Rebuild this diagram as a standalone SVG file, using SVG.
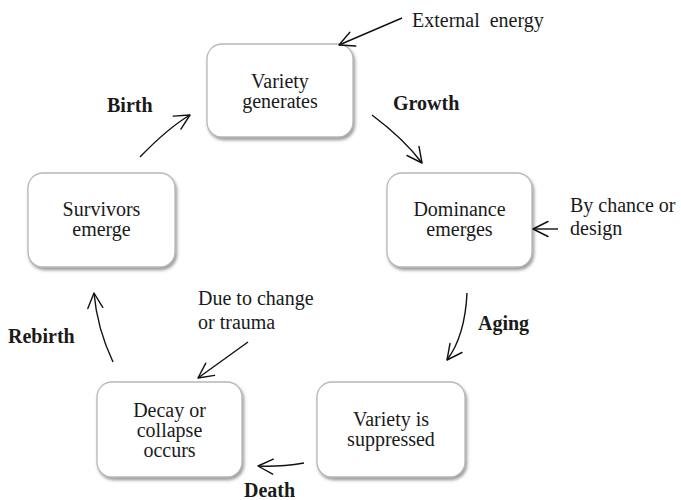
<svg xmlns="http://www.w3.org/2000/svg" width="681" height="500" viewBox="0 0 681 500">
  <defs>
    <filter id="boxShadow" x="-10%" y="-10%" width="125%" height="130%">
      <feDropShadow dx="1.5" dy="2.5" stdDeviation="1.6" flood-color="#7a7a7a" flood-opacity="0.75"/>
    </filter>
    <marker id="chevron" markerUnits="userSpaceOnUse" markerWidth="24" markerHeight="24" viewBox="-20 -12 24 24" refX="0" refY="0" orient="auto">
      <path d="M-15,-7.5 L0,0 L-15,7.5" fill="none" stroke="#111" stroke-width="1.4" stroke-linecap="round" stroke-linejoin="round"/>
    </marker>
    <style>
      .box { fill: #ffffff; stroke: #b8b8b8; stroke-width: 1.3; filter: url(#boxShadow); }
      .node-text { font-family: "Liberation Serif", "Times New Roman", serif; font-size: 20px; fill: #1a1a1a; text-anchor: middle; }
      .note { font-family: "Liberation Serif", "Times New Roman", serif; font-size: 20px; fill: #1a1a1a; white-space: pre; }
      .stage { font-family: "Liberation Serif", "Times New Roman", serif; font-size: 20px; font-weight: bold; fill: #1a1a1a; }
      .arrow { fill: none; stroke: #111; stroke-width: 1.4; marker-end: url(#chevron); }
    </style>
  </defs>

  <rect width="681" height="500" fill="#ffffff"/>

  <!-- cycle nodes -->
  <g id="variety-generates">
    <rect class="box" x="207" y="44" width="146" height="93" rx="15"/>
    <text class="node-text" x="280" y="88">Variety</text>
    <text class="node-text" x="280" y="108">generates</text>
  </g>

  <g id="dominance-emerges">
    <rect class="box" x="387" y="173" width="145" height="94" rx="15"/>
    <text class="node-text" x="459.5" y="216">Dominance</text>
    <text class="node-text" x="459.5" y="236">emerges</text>
  </g>

  <g id="variety-suppressed">
    <rect class="box" x="317" y="382" width="148" height="95" rx="15"/>
    <text class="node-text" x="391" y="426">Variety is</text>
    <text class="node-text" x="391" y="446">suppressed</text>
  </g>

  <g id="decay-collapse">
    <rect class="box" x="97" y="382" width="145" height="95" rx="15"/>
    <text class="node-text" x="169.5" y="417">Decay or</text>
    <text class="node-text" x="169.5" y="437">collapse</text>
    <text class="node-text" x="169.5" y="457">occurs</text>
  </g>

  <g id="survivors-emerge">
    <rect class="box" x="28" y="173" width="147" height="94" rx="15"/>
    <text class="node-text" x="101.5" y="216">Survivors</text>
    <text class="node-text" x="101.5" y="236">emerge</text>
  </g>

  <!-- influences and stage labels -->
  <g id="annotations">
    <text class="note" x="412" y="27">External  energy</text>
    <text class="note" x="570" y="212">By chance or</text>
    <text class="note" x="570" y="235">design</text>
    <text class="note" x="198" y="305">Due to change</text>
    <text class="note" x="198" y="329">or trauma</text>
    <text class="stage" x="107" y="112">Birth</text>
    <text class="stage" x="393" y="110">Growth</text>
    <text class="stage" x="478" y="330">Aging</text>
    <text class="stage" x="244" y="497">Death</text>
    <text class="stage" x="8" y="343">Rebirth</text>
  </g>

  <!-- connectors -->
  <g id="connectors">
    <path class="arrow" d="M402,18 L339,45"/>
    <path class="arrow" d="M372,115 Q404,139 422,163"/>
    <path class="arrow" d="M558,229 L533,229"/>
    <path class="arrow" d="M467,293 Q465,336 447,360"/>
    <path class="arrow" d="M304,463 Q280,467 258,466"/>
    <path class="arrow" d="M248,342 L198,378"/>
    <path class="arrow" d="M113,362 Q97,328 94,293"/>
    <path class="arrow" d="M140,157 Q168,128 190,115"/>
  </g>
</svg>
